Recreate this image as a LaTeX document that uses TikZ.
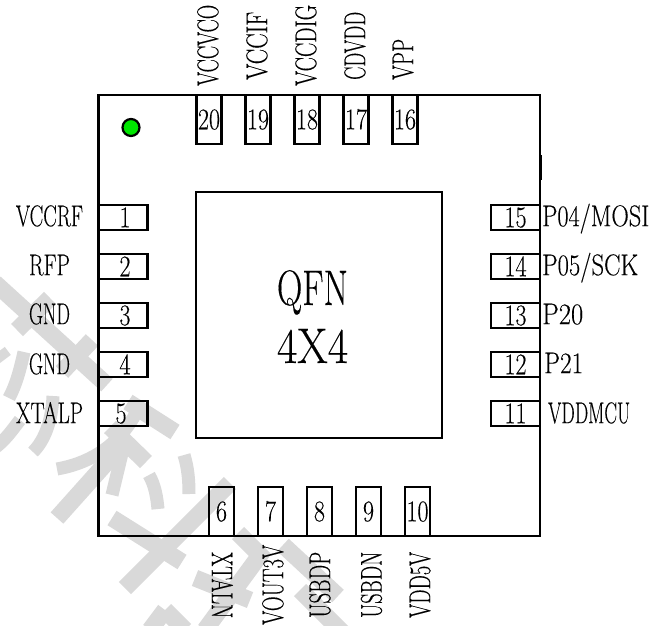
\documentclass[tikz,border=0pt]{standalone}
\usepackage{graphicx}
\usepackage{fontspec}
\setmainfont{Latin Modern Roman}[FakeBold=0.25]
\definecolor{wm}{HTML}{D9D9D9}
\definecolor{dotgreen}{HTML}{00E600}
\newcommand{\numtxt}[1]{\scalebox{.8}[1]{#1}}
\newcommand{\lab}[2]{\resizebox{#1pt}{\height}{#2}}
\tikzset{
  x=1pt,y=-1pt,
  pinbox/.style={draw=black,line width=2.3pt,inner sep=0pt,font=\fontsize{30}{30}\selectfont,text height=19.5pt,text depth=0pt},
  hpin/.style={pinbox,minimum width=49pt,minimum height=25pt},
  vpin/.style={pinbox,minimum width=25pt,minimum height=49pt},
  lbl/.style={inner sep=0pt,font=\fontsize{30}{30}\selectfont,text height=20.4pt,text depth=0pt},
  big/.style={inner sep=0pt,anchor=base,font=\fontsize{50}{50}\selectfont},
  wmline/.style={draw=wm,line width=17pt},
  wmthin/.style={draw=wm,line width=13pt}
}
\begin{document}
\begin{tikzpicture}
\useasboundingbox (0,0) rectangle (651,625);
\fill[white] (0,0) rectangle (651,625);
% watermark
\begin{scope}
\clip (0,0) rectangle (651,625);
\draw[wmline] (-5,283) -- (107,385);
\draw[wmline] (50,298) -- (17,330);
\draw[wmline] (92,340) -- (62,372);
\draw[wmthin] (24,352) .. controls (20,370) and (16,385) .. (9,398);
\draw[wmline] (-2,352) -- (4,360);
\draw[wmthin] (20,420) .. controls (12,430) and (6,440) .. (-8,450);
\draw[wmthin] (53,396) .. controls (52,420) and (45,440) .. (33,452);
\draw[wmthin] (57,469) .. controls (85,464) and (115,450) .. (135,415);
\draw[wmline] (128,402) -- (175,432);
\draw[wmline] (57,518) -- (125,442);
\draw[wmthin] (112,495) -- (124,445);
\draw[wmline] (110,427) -- (146,462);
\draw[wmthin] (149,475) .. controls (155,485) and (157,498) .. (158,509);
\draw[wmthin] (184,455) .. controls (188,468) and (189,480) .. (189,494);
\draw[wmline] (230,483) -- (125,588);
\draw[wmline] (112,518) -- (182,562);
\draw[wmline] (195,578) -- (250,600);
\draw[wmline] (238,533) -- (260,555) -- (205,630);
\draw[wmline] (283,545) -- (338,596);
\draw[wmline] (300,590) -- (345,635);
\draw[wmline] (165,610) -- (150,630);
\draw[wmline] (165,610) -- (185,630);
\end{scope}
% body
\node[draw=black,line width=2.2pt,inner sep=0pt,minimum width=441.5pt,minimum height=441pt] (body) at (319.25,315.5) {};
\node[draw=black,line width=2.2pt,inner sep=0pt,minimum width=246pt,minimum height=246pt] (pad) at (319,315) {};
\node[big] (qfn) at (312.5,305) {\lab{71}{QFN}};
\node[big] (fx) at (312.5,363) {\lab{71}{4X4}};
\node[draw=black,line width=2.2pt,fill=dotgreen,circle,minimum size=17pt,inner sep=0pt] (dot) at (131,127.5) {};
\draw[line width=1pt] (541,155) -- (541,180);
% left pins
\node[hpin] (p1) at (123,217.5) {\hspace{4pt}\numtxt{1}};
\node[hpin] (p2) at (123,266.5) {\hspace{4pt}\numtxt{2}};
\node[hpin] (p3) at (123,315.5) {\hspace{4pt}\numtxt{3}};
\node[hpin] (p4) at (123,364.5) {\hspace{4pt}\numtxt{4}};
\node[hpin] (p5) at (123,413.5) {\hspace{-4pt}\numtxt{5}};
% right pins
\node[hpin] (p15) at (515.5,217.5) {\numtxt{15}};
\node[hpin] (p14) at (515.5,266.5) {\numtxt{14}};
\node[hpin] (p13) at (515.5,315.5) {\numtxt{13}};
\node[hpin] (p12) at (515.5,364.5) {\numtxt{12}};
\node[hpin] (p11) at (515.5,413.5) {\numtxt{11}};
% top pins
\node[vpin] (p20) at (209,119.5) {\numtxt{20}};
\node[vpin] (p19) at (258,119.5) {\numtxt{19}};
\node[vpin] (p18) at (307,119.5) {\numtxt{18}};
\node[vpin] (p17) at (356,119.5) {\numtxt{17}};
\node[vpin] (p16) at (405,119.5) {\numtxt{16}};
% bottom pins
\node[vpin] (p6) at (221.5,511.5) {\numtxt{6}};
\node[vpin] (p7) at (270.5,511.5) {\numtxt{7}};
\node[vpin] (p8) at (319.5,511.5) {\numtxt{8}};
\node[vpin] (p9) at (368.5,511.5) {\numtxt{9}};
\node[vpin] (p10) at (417.5,511.5) {\numtxt{10}};
% left labels
\node[lbl] (l1) at (49.5,216) {\lab{67}{VCCRF}};
\node[lbl] (l2) at (49.5,265) {\lab{41}{RFP}};
\node[lbl] (l3) at (49.5,314) {\lab{41}{GND}};
\node[lbl] (l4) at (49.5,364) {\lab{41}{GND}};
\node[lbl] (l5) at (49.5,413) {\lab{67}{XTALP}};
% right labels
\node[lbl,anchor=west] (l15) at (542,216) {\lab{107}{P04/MOSI}};
\node[lbl,anchor=west] (l14) at (542,265) {\lab{96}{P05/SCK}};
\node[lbl,anchor=west] (l13) at (542,314) {\lab{41}{P20}};
\node[lbl,anchor=west] (l12) at (544,363) {\lab{39}{P21}};
\node[lbl,anchor=west] (l11) at (548,413) {\lab{82}{VDDMCU}};
% top labels
\node[lbl,rotate=90,anchor=west] (l20) at (208,86) {\lab{81}{VCCVCO}};
\node[lbl,rotate=90,anchor=west] (l19) at (257,80) {\lab{68}{VCCIF}};
\node[lbl,rotate=90,anchor=west] (l18) at (306,86) {\lab{81}{VCCDIG}};
\node[lbl,rotate=90,anchor=west] (l17) at (355,80) {\lab{68}{CDVDD}};
\node[lbl,rotate=90,anchor=west] (l16) at (403,80) {\lab{41}{VPP}};
% bottom labels
\node[lbl,rotate=-90,anchor=west] (l6) at (222,552) {\lab{66}{XTALN}};
\node[lbl,rotate=90,anchor=west] (l7) at (273,625) {\lab{80}{VOUT3V}};
\node[lbl,rotate=90,anchor=west] (l8) at (320,618) {\lab{66}{USBDP}};
\node[lbl,rotate=90,anchor=west] (l9) at (371.5,618) {\lab{66}{USBDN}};
\node[lbl,rotate=90,anchor=west] (l10) at (420,618) {\lab{66}{VDD5V}};
\end{tikzpicture}
\end{document}
